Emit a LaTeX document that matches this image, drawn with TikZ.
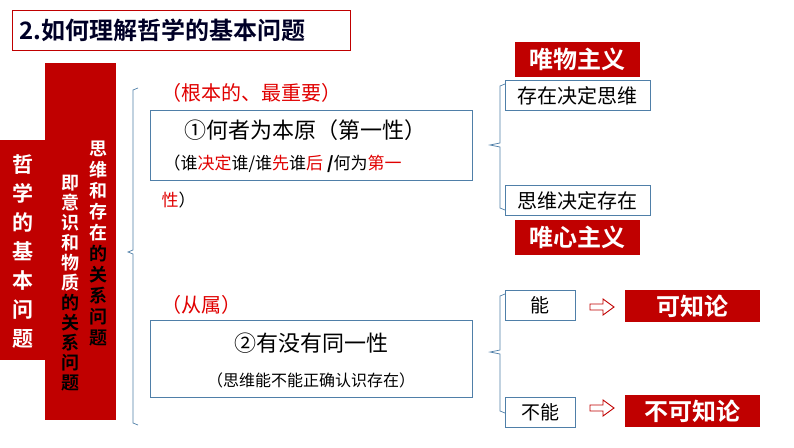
\documentclass[tikz,border=0pt]{standalone}
\usepackage{fontspec}
\setmainfont{Noto Sans CJK SC}
\newfontfamily\cjkb{Noto Sans CJK SC Bold}
\definecolor{dred}{HTML}{C00000}
\definecolor{bline}{HTML}{4F7FA8}
\definecolor{tred}{HTML}{E00000}
\begin{document}
\begin{tikzpicture}[x=1pt,y=-1pt,
 box/.style={draw=bline,line width=0.8pt,inner sep=0},
 redbox/.style={fill=dred,text=white,font=\cjkb\fontsize{24}{26}\selectfont,inner sep=0},
 brace/.style={draw=bline,line width=0.7pt},
 harrow/.style={draw=dred,line width=0.9pt,fill=white}]
\useasboundingbox (0,0) rectangle (794,447);
% title
\node[draw=dred,line width=1.2pt,minimum width=338pt,minimum height=40pt,anchor=north west,inner sep=0] (title) at (12,10) {};
\node[anchor=west,font=\cjkb\fontsize{24}{26}\selectfont,text=black!85!blue] (ttext) at (16,30) {2.如何理解哲学的基本问题};
% left red shape
\fill[dred] (45,63) rectangle (116,420);
\fill[dred] (0,140) rectangle (46,360);
\node[text=white,font=\cjkb\fontsize{21}{29}\selectfont,align=center] (c1) at (23,252) {哲\\学\\的\\基\\本\\问\\题};
\node[font=\cjkb\fontsize{18}{21}\selectfont,align=center,anchor=north] (c3) at (98,137) {\color{white}思\\\color{white}维\\\color{white}和\\\color{white}存\\\color{white}在\\的\\关\\系\\问\\题};
\node[font=\cjkb\fontsize{18}{20}\selectfont,align=center,anchor=north] (c2) at (70,172) {\color{white}即\\\color{white}意\\\color{white}识\\\color{white}和\\\color{white}物\\\color{white}质\\的\\关\\系\\问\\题};
% big brace
\coordinate (b1m) at (128,252);
\draw[brace] (138,88) -- (133,90) -- (133,250) -- (b1m) -- (133,254) -- (133,423) -- (138,425);
% upper
\node[text=tred,font=\fontsize{20}{22}\selectfont,anchor=west] (t1) at (158,93) {（根本的、最重要）};
\node[box,minimum width=322pt,minimum height=70pt,anchor=north west] (box1) at (150,110) {};
\node[font=\fontsize{22}{24}\selectfont] (b1a) at (305,130) {①何者为本原（第一性）};
\node[font=\fontsize{17}{19}\selectfont,anchor=west] (b1b) at (160,164) {（谁{\color{tred}决定}谁/谁{\color{tred}先}谁{\color{tred}后} \textbf{/}何为{\color{tred}第一}};
\node[font=\fontsize{17}{19}\selectfont,anchor=west] (b1c) at (158,200) {{\color{tred}性}）};
\coordinate (b2m) at (490,145);
\draw[brace] (505,84) -- (500,86) -- (500,143) -- (b2m) -- (500,147) -- (500,208) -- (505,210);
\node[box,minimum width=145pt,minimum height=30pt,anchor=north west,font=\fontsize{20}{22}\selectfont] (s1) at (505,80) {存在决定思维};
\node[box,minimum width=145pt,minimum height=30pt,anchor=north west,font=\fontsize{20}{22}\selectfont] (s2) at (505,185) {思维决定存在};
\node[redbox,minimum width=125pt,minimum height=35pt,anchor=north west] (r1) at (515,42) {唯物主义};
\node[redbox,minimum width=125pt,minimum height=35pt,anchor=north west] (r2) at (515,220) {唯心主义};
% lower
\node[text=tred,font=\fontsize{20}{22}\selectfont,anchor=west] (t2) at (158,305) {（从属）};
\node[box,minimum width=322pt,minimum height=77pt,anchor=north west] (box2) at (150,320) {};
\node[font=\fontsize{22}{24}\selectfont] (b2a) at (311,343) {②有没有同一性};
\node[font=\fontsize{16}{18}\selectfont] (b2b) at (311,380) {（思维能不能正确认识存在）};
\coordinate (b3m) at (490,352);
\draw[brace] (505,294) -- (500,296) -- (500,350) -- (b3m) -- (500,354) -- (500,411) -- (505,413);
\node[box,minimum width=70pt,minimum height=30pt,anchor=north west,font=\fontsize{19}{21}\selectfont] (n1) at (505,290) {能};
\node[box,minimum width=70pt,minimum height=30pt,anchor=north west,font=\fontsize{19}{21}\selectfont] (n2) at (505,397) {不能};
\foreach \yy in {307,408}
  \draw[harrow] (590,\yy-3) -- (603,\yy-3) -- (603,\yy-8) -- (614,\yy) -- (603,\yy+8) -- (603,\yy+3) -- (590,\yy+3) -- cycle;
\node[redbox,minimum width=135pt,minimum height=32pt,anchor=north west] (k1) at (625,290) {可知论};
\node[redbox,minimum width=135pt,minimum height=32pt,anchor=north west] (k2) at (625,395) {不可知论};
\end{tikzpicture}
\end{document}
